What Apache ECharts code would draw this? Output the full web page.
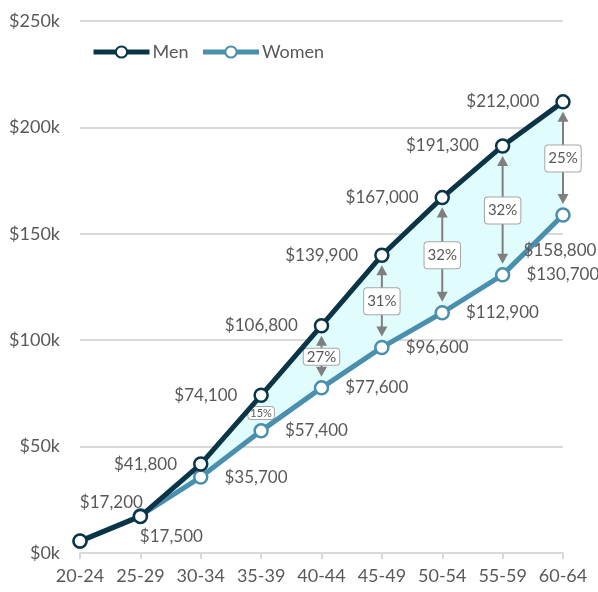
<!DOCTYPE html>
<html>
<head>
<meta charset="utf-8">
<script src="https://cdn.jsdelivr.net/npm/echarts@6/dist/echarts.min.js"></script>
<style>html,body{margin:0;padding:0;background:#fff}#c{width:598px;height:592px}</style>
</head>
<body>
<div id="c"></div>
<script>
const categories = ['20-24','25-29','30-34','35-39','40-44','45-49','50-54','55-59','60-64'];
const menValues = [5600, 17200, 41800, 74100, 106800, 139900, 167000, 191300, 212000];
const womenValues = [5500, 17500, 35700, 57400, 77600, 96600, 112900, 130700, 158800];
const gapIndex = [3, 4, 5, 6, 7, 8];
const gapLabels = ['15%', '27%', '31%', '32%', '32%', '25%'];
const yTicks = [0, 50000, 100000, 150000, 200000, 250000];

const FONT = 'Lato';
const GRAY = '#595959';
const MEN = '#0b3547';
const WOMEN = '#4a8fad';

function fmt(v){ return '$' + v.toLocaleString('en-US'); }

const menData = menValues.map((v, i) => {
  const d = { value: v };
  if (i === 0) d.label = { show: false };
  if (i === 1) d.label = { position: 'top', offset: [-29, 18] };
  return d;
});
const womenData = womenValues.map((v, i) => {
  const d = { value: v };
  if (i === 0) d.label = { show: false };
  if (i === 1) d.label = { position: 'bottom', offset: [31, -11] };
  if (i === 8) d.label = { position: 'bottom', offset: [-3, 3] };
  return d;
});
const gapData = gapIndex.map((ci, k) => [ci, menValues[ci], womenValues[ci], k]);

const chart = echarts.init(document.getElementById('c'), null, { renderer: 'canvas' });
chart.setOption({
  animation: false,
  backgroundColor: '#fff',
  textStyle: { fontFamily: FONT },
  grid: { left: 80, right: 35, top: 21, bottom: 39, containLabel: false },
  legend: {
    data: ['Men', 'Women'],
    left: 86, top: 38,
    itemWidth: 56, itemHeight: 14, itemGap: 12,
    lineStyle: { width: 5 },
    textStyle: { fontFamily: FONT, fontSize: 18, color: GRAY, padding: [0, 0, 0, -2] }
  },
  xAxis: {
    type: 'category', data: categories, boundaryGap: false,
    axisLine: { lineStyle: { color: '#d9d9d9', width: 2 } },
    axisTick: { show: true, length: 6, lineStyle: { color: '#d9d9d9', width: 2 } },
    axisLabel: { fontFamily: FONT, fontSize: 18, color: GRAY, margin: 14, interval: 0 }
  },
  yAxis: {
    type: 'value', min: 0, max: 250000, interval: 50000,
    axisLine: { show: false }, axisTick: { show: false },
    splitLine: { lineStyle: { color: '#d9d9d9', width: 2 } },
    axisLabel: { fontFamily: FONT, fontSize: 18, color: GRAY, margin: 20,
      formatter: v => yTicks.includes(v) ? '$' + (v / 1000) + 'k' : '' }
  },
  series: [
    { name: 'fill', type: 'custom', z: 1, silent: true, data: [[0]],
      renderItem: function (params, api) {
        const pts = [];
        for (let i = 0; i < menValues.length; i++) pts.push(api.coord([i, menValues[i]]));
        for (let i = womenValues.length - 1; i >= 0; i--) pts.push(api.coord([i, womenValues[i]]));
        return { type: 'polygon', shape: { points: pts }, style: { fill: '#e0fcfc' } };
      }
    },
    { name: 'arrows', type: 'custom', z: 3, data: gapData,
      renderItem: function (params, api) {
        const idx = api.value(0);
        const p1 = api.coord([idx, api.value(1)]);
        const p2 = api.coord([idx, api.value(2)]);
        const k = api.value(3);
        const x = p1[0];
        const mid = (p1[1] + p2[1]) / 2;
        const children = [];
        const small = k === 0;
        if (!small) {
          const top = p1[1] + 10, bot = p2[1] - 11;
          const c = '#7f7f7f';
          children.push({ type: 'line', shape: { x1: x, y1: top + 9, x2: x, y2: bot - 9 }, style: { stroke: c, lineWidth: 2 } });
          children.push({ type: 'polygon', shape: { points: [[x, top], [x - 5.5, top + 10], [x + 5.5, top + 10]] }, style: { fill: c } });
          children.push({ type: 'polygon', shape: { points: [[x, bot], [x - 5.5, bot - 10], [x + 5.5, bot - 10]] }, style: { fill: c } });
        }
        const pad = small ? [0, 2] : (k === 1 ? [0, 3] : [5, 3]);
        children.push({ type: 'text', x: x, y: mid, z2: 10, style: {
          text: gapLabels[k], fill: GRAY, fontFamily: FONT, fontSize: small ? 11 : 15,
          lineHeight: small ? 12 : 16,
          align: 'center', verticalAlign: 'middle', backgroundColor: '#fff',
          borderColor: '#a6a6a6', borderWidth: 1, borderRadius: 3,
          padding: pad } });
        return { type: 'group', children: children };
      }
    },
    { name: 'Women', type: 'line', data: womenData, z: 4,
      symbol: 'circle', symbolSize: 13, color: WOMEN,
      lineStyle: { color: WOMEN, width: 5 },
      itemStyle: { color: '#fff', borderColor: WOMEN, borderWidth: 2.5 },
      label: { show: true, position: 'right', distance: 16, formatter: p => fmt(p.value),
        fontFamily: FONT, fontSize: 17, color: GRAY }
    },
    { name: 'Men', type: 'line', data: menData, z: 5,
      symbol: 'circle', symbolSize: 13, color: MEN,
      lineStyle: { color: MEN, width: 5 },
      itemStyle: { color: '#fff', borderColor: MEN, borderWidth: 2.5 },
      label: { show: true, position: 'left', distance: 16, formatter: p => fmt(p.value),
        fontFamily: FONT, fontSize: 17, color: GRAY }
    }
  ]
});
</script>
</body>
</html>
